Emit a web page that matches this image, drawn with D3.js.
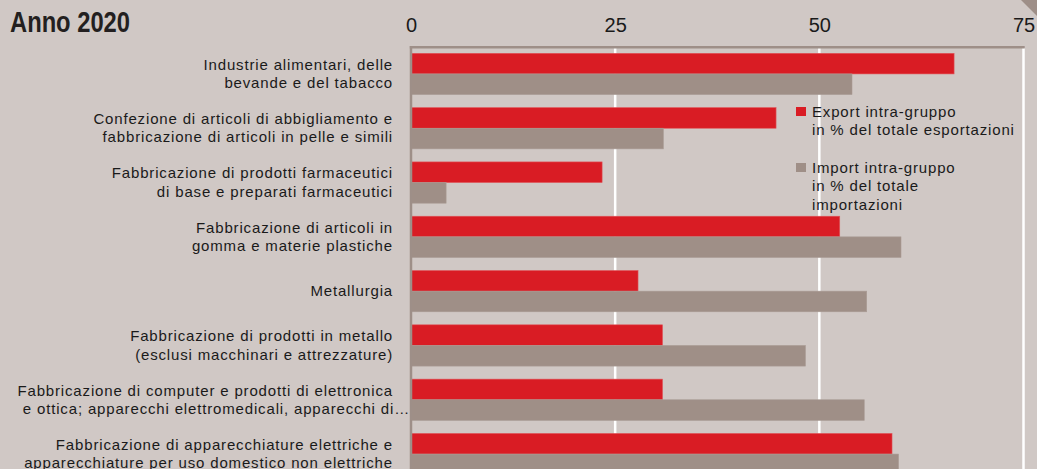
<!DOCTYPE html>
<html>
<head>
<meta charset="utf-8">
<script src="https://cdn.jsdelivr.net/npm/d3@7"></script>
<style>
  html, body { margin: 0; padding: 0; background: #d0c8c5; }
  svg { display: block; }
  text { font-family: "Liberation Sans", Arial, Helvetica, sans-serif; fill: #1a1a1a; }
</style>
</head>
<body>
<svg id="chart" width="1037" height="469"></svg>
<script>
// ---- data ----
const title = "Anno 2020";
const categories = [
  ["Industrie alimentari, delle", "bevande e del tabacco"],
  ["Confezione di articoli di abbigliamento e", "fabbricazione di articoli in pelle e simili"],
  ["Fabbricazione di prodotti farmaceutici", "di base e preparati farmaceutici"],
  ["Fabbricazione di articoli in", "gomma e materie plastiche"],
  ["Metallurgia"],
  ["Fabbricazione di prodotti in metallo", "(esclusi macchinari e attrezzature)"],
  ["Fabbricazione di computer e prodotti di elettronica", "e ottica; apparecchi elettromedicali, apparecchi di\u2026"],
  ["Fabbricazione di apparecchiature elettriche e", "apparecchiature per uso domestico non elettriche"]
];
const exportValues = [66.5, 44.7, 23.4, 52.5, 27.8, 30.8, 30.8, 58.9];
const importValues = [54.0, 30.9, 4.3, 60.0, 55.8, 48.3, 55.5, 59.7];
const ticks = [0, 25, 50, 75];
const seriesKeys = ["export", "import"];
const legendLabels = [
  ["Export intra-gruppo", "in % del totale esportazioni"],
  ["Import intra-gruppo", "in % del totale", "importazioni"]
];

// ---- styles ----
const RED = "#d91c24", GRAY = "#9f8f87", FRAME = "#9e8f88";
const LS = "0.84px";

const svg = d3.select("#chart");
const W = 1037, H = 469;

const x = d3.scaleLinear().domain([0, 75]).range([411, 1023.5]);
const y = d3.scaleBand()
  .domain(d3.range(categories.length))
  .range([53.3, 474.7])
  .paddingInner(0.24)
  .paddingOuter(0)
  .align(0);
const ySub = d3.scaleBand().domain(seriesKeys).range([0, y.bandwidth()]);
const color = d3.scaleOrdinal().domain(seriesKeys).range([RED, GRAY]);

// corner triangle
svg.append("path").attr("d", "M1021,0 L1037,0 L1037,16 Z").attr("fill", FRAME);

// title
svg.append("text").attr("x", 10).attr("y", 31.7)
  .attr("textLength", 120).attr("lengthAdjust", "spacingAndGlyphs")
  .style("font-weight", "bold").style("font-size", "29px")
  .style("fill", "#231f20")
  .text(title);

// gridlines
svg.append("g").selectAll("line").data(ticks.filter(t => t > 0)).join("line")
  .attr("x1", d => x(d)).attr("x2", d => x(d))
  .attr("y1", 48).attr("y2", H)
  .attr("stroke", "#ffffff").attr("stroke-width", 2.5);

// top axis labels
const axis = d3.axisTop(x).tickValues(ticks).tickSize(0).tickPadding(0);
const ax = svg.append("g").attr("transform", "translate(0,31.5)").call(axis);
ax.select(".domain").remove();
ax.selectAll("text").attr("dy", 0).style("font-size", "20px")
  .style("font-family", "'Liberation Sans', Arial, sans-serif").attr("fill", "#1a1a1a");

// frame line
svg.append("line").attr("x1", x(0) - 1.2).attr("x2", x(75) + 1.2)
  .attr("y1", 47.3).attr("y2", 47.3).attr("stroke", FRAME).attr("stroke-width", 2.5);

// bars
const groups = svg.append("g").selectAll("g").data(categories.map((c, i) => i)).join("g")
  .attr("transform", i => `translate(0,${y(i)})`);
groups.selectAll("rect").data(i => [
  { key: "export", value: exportValues[i] },
  { key: "import", value: importValues[i] }
]).join("rect")
  .attr("x", x(0))
  .attr("y", d => ySub(d.key))
  .attr("width", d => x(d.value) - x(0))
  .attr("height", ySub.bandwidth())
  .attr("fill", d => color(d.key))
  .attr("stroke", d => d.key === "export" ? "#e0575c" : "#aa9c95")
  .attr("stroke-width", 0.6);

// left axis line
svg.append("line").attr("x1", x(0)).attr("x2", x(0))
  .attr("y1", 46).attr("y2", H).attr("stroke", FRAME).attr("stroke-width", 2.5);

// category labels
const lineH = 18.5;
const labels = svg.append("g").selectAll("text").data(categories).join("text")
  .attr("text-anchor", "end")
  .style("font-size", "15px")
  .style("letter-spacing", LS);
labels.each(function(lines, i) {
  const cy = y(i) + y.bandwidth() / 2;
  const n = lines.length;
  d3.select(this).selectAll("tspan").data(lines).join("tspan")
    .attr("x", (l, j) => (i === 6 && j === 1) ? 410 : 393)
    .attr("y", (l, j) => cy + (j - (n - 1) / 2) * lineH + 5)
    .text(l => l);
});

// legend
const legY = [107, 163];
const leg = svg.append("g").selectAll("g").data(seriesKeys).join("g");
leg.append("rect").attr("x", 796).attr("y", (d, i) => legY[i])
  .attr("width", 10).attr("height", 9).attr("fill", d => color(d));
leg.append("text").style("font-size", "15px").style("letter-spacing", LS).each(function(d, i) {
  d3.select(this).selectAll("tspan").data(legendLabels[i]).join("tspan")
    .attr("x", 812)
    .attr("y", (l, j) => legY[i] + 9.5 + j * 18.5)
    .text(l => l);
});
</script>
</body>
</html>
